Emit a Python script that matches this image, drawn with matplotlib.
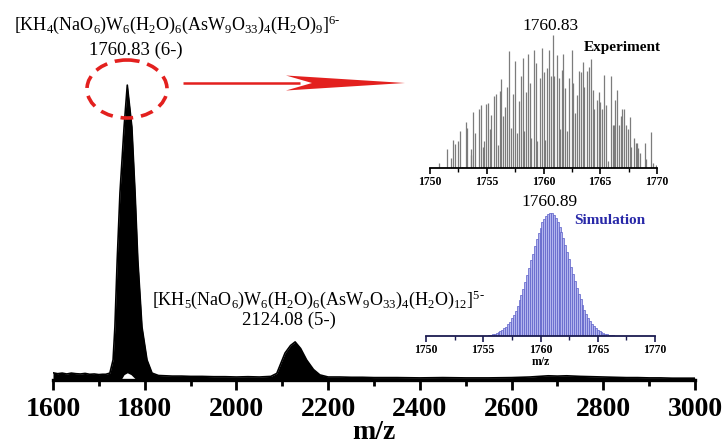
import matplotlib
matplotlib.use("Agg")
import matplotlib.pyplot as plt
from matplotlib.patches import Ellipse, Polygon

plt.rcParams['font.family'] = ['Liberation Serif', 'DejaVu Serif']
plt.rcParams['mathtext.fontset'] = 'custom'
plt.rcParams['mathtext.rm'] = 'Liberation Serif'
plt.rcParams['mathtext.it'] = 'Liberation Serif:italic'
plt.rcParams['mathtext.bf'] = 'Liberation Serif:bold'

# ---------------- data ----------------
# full-range ESI-MS spectrum (envelope)
spec_mz = [1600, 1610, 1620, 1630, 1640, 1650, 1660, 1670, 1680, 1690, 1700, 1708,
           1715, 1724, 1731, 1735, 1740, 1746, 1755, 1762, 1772, 1779, 1785, 1794,
           1805, 1816, 1830, 1845, 1860, 1880, 1900, 1925, 1950, 1975, 2000, 2025,
           2050, 2075, 2088, 2106, 2118, 2128, 2140, 2153, 2168, 2182, 2200, 2225,
           2250, 2275, 2300, 2350, 2400, 2450, 2500, 2550, 2600, 2620, 2640, 2660,
           2680, 2700, 2720, 2750, 2775, 2800, 2825, 2850, 2875, 2900, 2925, 2950,
           2975, 3000]
spec_int = [2.4, 2.1, 2.3, 2.0, 2.3, 2.1, 2.0, 2.2, 1.9, 2.0, 1.8, 1.9,
            1.9, 2.3, 6.7, 17.7, 40.0, 62.3, 84.3, 98.3, 84.3, 62.3, 40.0, 17.7,
            6.7, 2.3, 1.5, 1.4, 1.3, 1.3, 1.2, 1.2, 1.1, 1.1, 1.0, 1.1,
            1.0, 1.2, 2.2, 9.0, 11.5, 12.7, 10.5, 6.7, 3.5, 1.7, 1.0, 1.0,
            0.9, 0.9, 0.8, 0.8, 0.7, 0.8, 0.7, 0.7, 0.8, 0.9, 1.0, 1.2,
            1.4, 1.3, 1.4, 1.2, 1.1, 1.0, 0.9, 0.8, 0.8, 0.7, 0.7, 0.6,
            0.6, 0.6]
# small gap at the foot of the main peak
gap_mz = [1748, 1755, 1762, 1770, 1782]
gap_int = [0.0, 1.8, 2.4, 1.8, 0.0]

main_ticks = [1600, 1800, 2000, 2200, 2400, 2600, 2800, 3000]

# experimental isotope pattern (m/z, relative intensity %)
exp_mz = [1750.79, 1751.46, 1751.81, 1752.02, 1752.16, 1752.46, 1752.63, 1752.78,
          1753.13, 1753.27, 1753.57, 1753.65, 1753.80, 1753.95, 1754.33, 1754.47,
          1754.65, 1754.80, 1754.97, 1755.09, 1755.26, 1755.41, 1755.64, 1755.79,
          1755.96, 1756.14, 1756.29, 1756.46, 1756.64, 1756.78, 1756.99, 1757.13,
          1757.31, 1757.51, 1757.66, 1757.81, 1758.01, 1758.16, 1758.30, 1758.48,
          1758.63, 1758.77, 1758.92, 1759.12, 1759.30, 1759.47, 1759.65, 1759.85,
          1760.00, 1760.15, 1760.32, 1760.50, 1760.64, 1760.82, 1760.96, 1761.17,
          1761.35, 1761.49, 1761.64, 1761.75, 1761.93, 1762.11, 1762.28, 1762.49,
          1762.63, 1762.78, 1762.92, 1763.13, 1763.27, 1763.45, 1763.60, 1763.80,
          1763.98, 1764.15, 1764.33, 1764.47, 1764.68, 1764.85, 1765.00, 1765.15,
          1765.32, 1765.50, 1765.64, 1765.94, 1766.08, 1766.20, 1766.32, 1766.49,
          1766.67, 1766.87, 1766.96, 1767.08, 1767.25, 1767.46, 1767.60, 1767.75,
          1767.98, 1768.13, 1768.25, 1768.36, 1768.48, 1768.92, 1769.06, 1769.50,
          1769.65, 1769.94]
exp_int = [4, 14, 7.5, 21, 18, 20, 28, 1,
           34.5, 30, 14, 9.5, 42, 26, 44, 47,
           16, 20, 48, 49, 29, 40, 54, 56,
           17.5, 58, 67, 39, 46, 61, 88, 30,
           56, 80.5, 26, 50.5, 69, 82.5, 27.5, 57.5,
           86, 64, 22.5, 89, 79, 20, 67.5, 90,
           72, 21, 75, 89, 69, 100, 69, 85,
           67.5, 29, 74, 86, 60, 27.5, 67.5, 89,
           64, 41, 55, 73, 72.5, 79.5, 61, 73,
           76, 82, 59, 44, 51, 57.5, 50, 44,
           70, 47.5, 5, 69, 32, 32, 51, 59,
           32, 39, 44, 44, 32.5, 29, 38, 16,
           22.5, 19, 19, 15, 11, 19, 7, 27,
           4, 2.5]

# simulated isotope pattern (m/z step 1/6, relative intensity %)
sim_mz = [1755.50, 1755.67, 1755.83, 1756.00, 1756.17, 1756.33, 1756.50, 1756.67,
          1756.83, 1757.00, 1757.17, 1757.33, 1757.50, 1757.67, 1757.83, 1758.00,
          1758.17, 1758.33, 1758.50, 1758.67, 1758.83, 1759.00, 1759.17, 1759.33,
          1759.50, 1759.67, 1759.83, 1760.00, 1760.17, 1760.33, 1760.50, 1760.67,
          1760.83, 1761.00, 1761.17, 1761.33, 1761.50, 1761.67, 1761.83, 1762.00,
          1762.17, 1762.33, 1762.50, 1762.67, 1762.83, 1763.00, 1763.17, 1763.33,
          1763.50, 1763.67, 1763.83, 1764.00, 1764.17, 1764.33, 1764.50, 1764.67,
          1764.83, 1765.00, 1765.17, 1765.33, 1765.50, 1765.67, 1765.83, 1766.00,
          1766.17, 1766.33, 1766.50]
sim_int = [0.7, 1.0, 1.3, 1.7, 2.3, 2.9, 3.8, 4.8,
           6.1, 7.7, 9.6, 11.7, 14.4, 17.4, 20.6, 24.6,
           28.9, 33.3, 38.5, 44.0, 49.4, 55.3, 61.4, 67.0,
           73.0, 78.6, 83.5, 88.2, 92.3, 95.4, 97.9, 99.4,
           100.0, 99.6, 98.2, 96.1, 93.0, 89.0, 84.7, 79.5,
           74.0, 68.5, 62.4, 56.4, 50.8, 45.0, 39.4, 34.5,
           29.7, 25.3, 21.5, 18.0, 15.0, 12.3, 10.0, 8.0,
           6.5, 5.1, 4.0, 3.1, 2.4, 1.8, 1.4, 1.0,
           0.7, 0.6, 0.4]

inset_ticks = [1750, 1755, 1760, 1765, 1770]

label_main1 = (r'[KH$_4$(NaO$_6$)W$_6$(H$_2$O)$_6$(AsW$_9$O$_{33}$)$_4$'
               r'(H$_2$O)$_9$]$^{6\text{-}}$')
label_peak1 = '1760.83 (6-)'
label_main2 = (r'[KH$_5$(NaO$_6$)W$_6$(H$_2$O)$_6$(AsW$_9$O$_{33}$)$_4$'
               r'(H$_2$O)$_{12}$]$^{5\text{-}}$')
label_peak2 = '2124.08 (5-)'
exp_peak_label = '1760.83'
sim_peak_label = '1760.89'

# ---------------- figure ----------------
W, H = 726, 445
fig = plt.figure(figsize=(W / 100, H / 100), dpi=100)


def box(x0, x1, ytop, ybot):
    return [x0 / W, 1 - ybot / H, (x1 - x0) / W, (ybot - ytop) / H]


# main spectrum
ax = fig.add_axes(box(53, 695, 80, 380))
ax.fill_between(spec_mz, 0, spec_int, color='black', lw=0)
ax.plot(spec_mz, spec_int, color='black', lw=1.2)
ax.fill_between(gap_mz, 0, gap_int, color='white', lw=0, zorder=3)
ax.set_xlim(1600, 3000)
ax.set_ylim(0, 100)
for s in ['left', 'right', 'top']:
    ax.spines[s].set_visible(False)
ax.spines['bottom'].set_linewidth(2.4)
ax.spines['bottom'].set_zorder(4)
ax.set_yticks([])
ax.set_xticks(main_ticks)
ax.set_xticks([1700, 1900, 2100, 2300, 2500, 2700, 2900], minor=True)
ax.tick_params(axis='x', which='major', length=7, width=2.0, direction='out', pad=5)
ax.tick_params(axis='x', which='minor', length=4, width=2.0, direction='out')
for lab in ax.get_xticklabels():
    lab.set_fontsize(20)
    lab.set_fontweight('bold')
ax.set_xlabel('m/z', fontsize=20, fontweight='bold', labelpad=-1)

# experimental inset
axe = fig.add_axes(box(430, 657, 35, 168))
axe.vlines(exp_mz, 0, exp_int, color='#7c7c7c', lw=0.9)
axe.set_xlim(1750, 1770)
axe.set_ylim(0, 100)
for s in ['left', 'right', 'top']:
    axe.spines[s].set_visible(False)
axe.spines['bottom'].set_linewidth(1.3)
axe.set_yticks([])
axe.set_xticks(inset_ticks)
axe.set_xticks([1752.5, 1757.5, 1762.5, 1767.5], minor=True)
axe.tick_params(axis='x', which='major', length=4, width=1.2, pad=2)
axe.tick_params(axis='x', which='minor', length=3, width=1.0)
for lab in axe.get_xticklabels():
    lab.set_fontsize(8.5)
    lab.set_fontweight('bold')
axe.patch.set_alpha(0)

# simulated inset
axs = fig.add_axes(box(426, 655, 213, 336))
axs.bar(sim_mz, sim_int, width=1 / 6, color='#b3b5ee', edgecolor='#5a5ec8', lw=0.5)
axs.set_xlim(1750, 1770)
axs.set_ylim(0, 100)
for s in ['left', 'right', 'top']:
    axs.spines[s].set_visible(False)
axs.spines['bottom'].set_linewidth(1.3)
axs.spines['bottom'].set_color('#1b1b50')
axs.set_yticks([])
axs.set_xticks(inset_ticks)
axs.set_xticks([1752.5, 1757.5, 1762.5, 1767.5], minor=True)
axs.tick_params(axis='x', which='major', length=4, width=1.2, pad=2, color='#1b1b50')
axs.tick_params(axis='x', which='minor', length=3, width=1.0, color='#1b1b50')
for lab in axs.get_xticklabels():
    lab.set_fontsize(8.5)
    lab.set_fontweight('bold')
axs.set_xlabel('m/z', fontsize=8.5, fontweight='bold', labelpad=0)
axs.patch.set_alpha(0)

# overlay in pixel coordinates for annotations
ov = fig.add_axes([0, 0, 1, 1])
ov.set_xlim(0, W)
ov.set_ylim(H, 0)
ov.axis('off')
ov.patch.set_alpha(0)

ov.text(14, 25, label_main1, fontsize=13, ha='left', va='center')
ov.text(136, 50, label_peak1, fontsize=13.5, ha='center', va='center')
ov.text(152, 300, label_main2, fontsize=13, ha='left', va='center')
ov.text(289, 320, label_peak2, fontsize=13.5, ha='center', va='center')

ov.text(551, 26, exp_peak_label, fontsize=12.5, ha='center', va='center')
ov.text(622, 47, 'Experiment', fontsize=11, fontweight='bold', ha='center', va='center')
ov.text(550, 202, sim_peak_label, fontsize=12.5, ha='center', va='center')
ov.text(610, 220, 'Simulation', fontsize=11, fontweight='bold', color='#2828a8',
        ha='center', va='center')

red = '#e3201e'
ov.add_patch(Ellipse((127, 89), 80, 58, fill=False, edgecolor=red, lw=2.6,
                     linestyle=(0, (3.5, 2.2))))
ov.plot([183, 300], [83, 83], color=red, lw=1.8, solid_capstyle='butt')
ov.add_patch(Polygon([(286, 75.5), (405, 83), (286, 90.5), (312, 83)],
                     closed=True, facecolor=red, edgecolor='none'))

fig.savefig('out.png', dpi=100)
